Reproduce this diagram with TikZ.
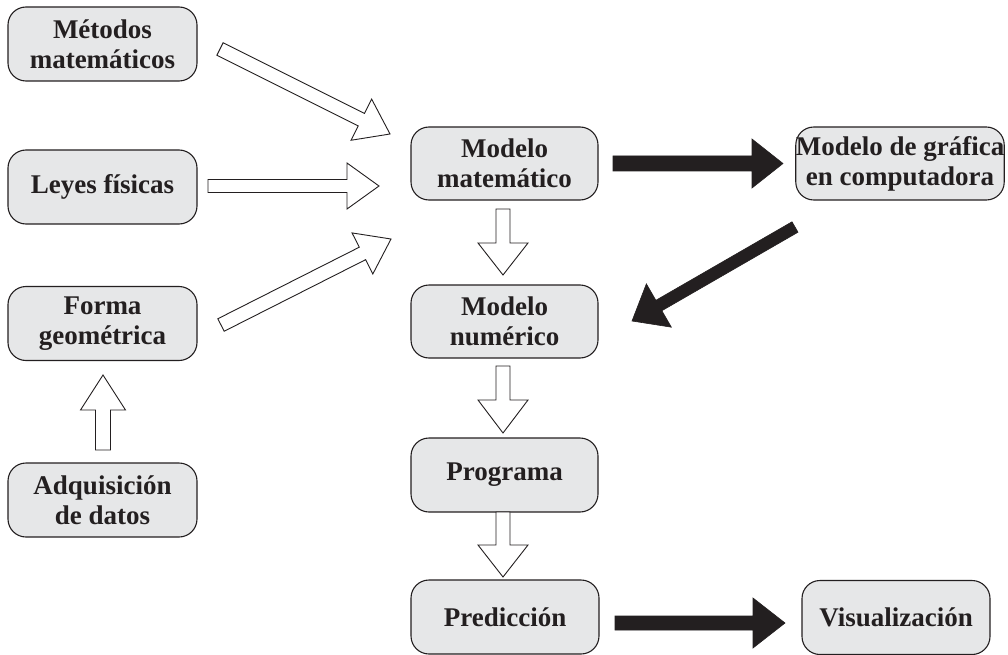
\documentclass[tikz,border=0pt]{standalone}
\usepackage{fontspec}
\setmainfont{Liberation Serif}
\usetikzlibrary{calc}
\definecolor{ink}{HTML}{231F20}
\definecolor{boxfill}{HTML}{E6E7E8}

% Block arrow from #2 to #3: #4 half shaft width, #5 half head width, #6 head length
\newcommand\blockarrow[6]{%
  \coordinate (ba-base) at ($(#3)!#6!(#2)$);
  \draw[#1] ($(#2)!#4!90:(#3)$) -- ($(ba-base)!#4!90:(#3)$)
    -- ($(ba-base)!#5!90:(#3)$) -- (#3)
    -- ($(ba-base)!#5!-90:(#3)$) -- ($(ba-base)!#4!-90:(#3)$)
    -- ($(#2)!#4!-90:(#3)$) -- cycle;
}

\begin{document}
\begin{tikzpicture}[x=1pt,y=-1pt,
  box/.style={draw=ink, line width=1.1pt, fill=boxfill, rounded corners=18pt,
    text=ink, font=\fontsize{27}{30}\selectfont\bfseries, align=center,
    inner sep=0pt, minimum height=74pt},
  hollow/.style={draw=ink, line width=0.9pt, fill=white, line join=miter},
  solidarrow/.style={draw=ink, fill=ink, line width=0.6pt, line join=miter}]
\useasboundingbox (0,0) rectangle (1008,655);

% boxes
\node[box, minimum width=189pt] (met) at (102.5,44) {Métodos\\matemáticos};
\node[box, minimum width=189pt] (ley) at (102.5,187) {Leyes físicas};
\node[box, minimum width=189pt] (for) at (102.5,323.5) {Forma\\geométrica};
\node[box, minimum width=189pt] (adq) at (102.5,500) {Adquisición\\de datos};
\node[box, minimum width=187pt, minimum height=73pt] (mm) at (504.5,163.5) {Modelo\\matemático};
\node[box, minimum width=206pt, minimum height=73pt] (graf) at (900,163.5) {Modelo de gráfica\\en computadora};
\node[box, minimum width=187pt, minimum height=73pt] (num) at (504.5,321.5) {Modelo\\numérico};
\node[box, minimum width=187pt] (prog) at (504.5,475) {Programa};
\node[box, minimum width=188pt] (pred) at (505,617) {Predicción};
\node[box, minimum width=188pt] (vis) at (896,617.5) {Visualización};

% arrow end points
\coordinate (met-out) at (220,49);   \coordinate (met-in) at (390,134);
\coordinate (ley-out) at (208,186);  \coordinate (ley-in) at (379,186);
\coordinate (for-out) at (221,325);  \coordinate (for-in) at (391,239);
\coordinate (adq-out) at (103,450);  \coordinate (adq-in) at (103,375);
\coordinate (mm-out) at (503,209);   \coordinate (mm-in) at (503,275);
\coordinate (num-out) at (503,366);  \coordinate (num-in) at (503,433);
\coordinate (prog-out) at (503,512); \coordinate (prog-in) at (503,577);
\coordinate (mmg-out) at (613,163.5); \coordinate (mmg-in) at (783,163.5);
\coordinate (graf-out) at (795,227); \coordinate (graf-in) at (632,321);
\coordinate (pred-out) at (615,623); \coordinate (pred-in) at (785,623);

% hollow arrows
\blockarrow{hollow}{met-out}{met-in}{7pt}{23pt}{32pt}
\blockarrow{hollow}{ley-out}{ley-in}{6.5pt}{23pt}{32pt}
\blockarrow{hollow}{for-out}{for-in}{7pt}{23pt}{32pt}
\blockarrow{hollow}{adq-out}{adq-in}{7.5pt}{22.5pt}{35pt}
\blockarrow{hollow}{mm-out}{mm-in}{7pt}{25pt}{32pt}
\blockarrow{hollow}{num-out}{num-in}{7pt}{25pt}{33pt}
\blockarrow{hollow}{prog-out}{prog-in}{7pt}{25pt}{32pt}

% solid arrows
\blockarrow{solidarrow}{mmg-out}{mmg-in}{7.5pt}{24.5pt}{31pt}
\blockarrow{solidarrow}{graf-out}{graf-in}{6pt}{25pt}{31pt}
\blockarrow{solidarrow}{pred-out}{pred-in}{7pt}{25pt}{32pt}
\end{tikzpicture}
\end{document}
